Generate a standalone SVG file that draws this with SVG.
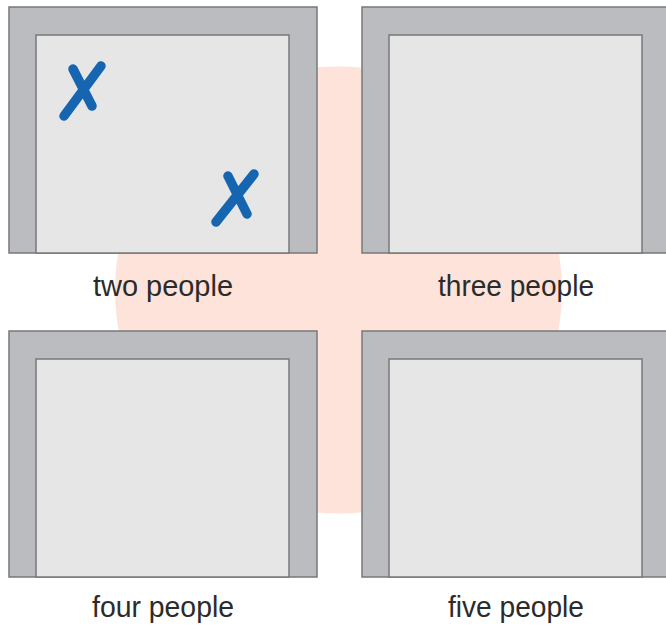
<svg xmlns="http://www.w3.org/2000/svg" width="666" height="625" viewBox="0 0 666 625">
<style>
.frame{fill:#bbbcbf;stroke:#77787a;stroke-width:1.5}
.inner{fill:#e6e6e6;stroke:#77787a;stroke-width:1.5}
.lbl{font-family:"Liberation Sans",Arial,sans-serif;font-size:30px;fill:#2b2b2b;text-anchor:middle}
.x{fill:none;stroke:#1565b0;stroke-width:9.5;stroke-linecap:round}
</style>
<rect width="666" height="625" fill="#ffffff"/>
<circle id="bg" cx="338.5" cy="290" r="223.5" fill="#fde3d9"/>
<g id="panel-two">
  <rect class="frame" x="9" y="7" width="308" height="246"/>
  <rect class="inner" x="36" y="35" width="253" height="218"/>
  <path class="x" d="M73 69 L92 106 M101 66 L64 116"/>
  <path class="x" d="M228 176 L247 214 M254 174 L216 222"/>
  <text class="lbl" x="163" y="296" textLength="140" lengthAdjust="spacingAndGlyphs">two people</text>
</g>
<g id="panel-three">
  <rect class="frame" x="362" y="7" width="310" height="246"/>
  <rect class="inner" x="389" y="35" width="253" height="218"/>
  <text class="lbl" x="516" y="296" textLength="156" lengthAdjust="spacingAndGlyphs">three people</text>
</g>
<g id="panel-four">
  <rect class="frame" x="9" y="331" width="308" height="246"/>
  <rect class="inner" x="36" y="359" width="253" height="218"/>
  <text class="lbl" x="163" y="617" textLength="142" lengthAdjust="spacingAndGlyphs">four people</text>
</g>
<g id="panel-five">
  <rect class="frame" x="362" y="331" width="310" height="246"/>
  <rect class="inner" x="389" y="359" width="253" height="218"/>
  <text class="lbl" x="516" y="617" textLength="136" lengthAdjust="spacingAndGlyphs">five people</text>
</g>
<g id="connectors"/>
</svg>
